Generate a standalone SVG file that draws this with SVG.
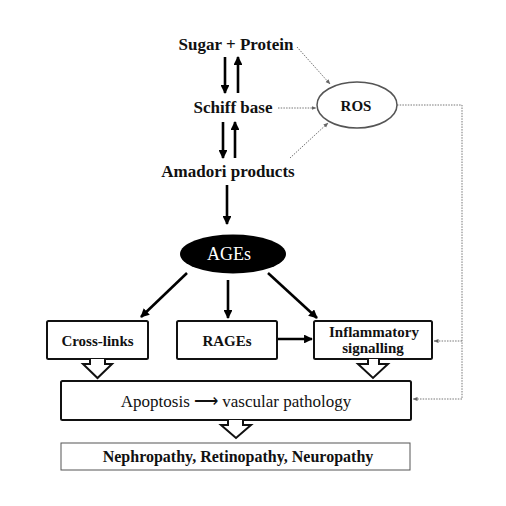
<svg xmlns="http://www.w3.org/2000/svg" width="506" height="506" viewBox="0 0 506 506">
<defs>
<marker id="ah" viewBox="0 0 10 10" refX="9" refY="5" markerWidth="3.4" markerHeight="3.4" orient="auto" markerUnits="strokeWidth"><path d="M0,0 L10,5 L0,10 z" fill="#000"/></marker>
<marker id="dh" viewBox="0 0 10 10" refX="9" refY="5" markerWidth="5" markerHeight="5" orient="auto" markerUnits="strokeWidth"><path d="M0,1 L10,5 L0,9 z" fill="#666"/></marker>
</defs>
<style>
.t{font-family:"Liberation Serif","Times New Roman",serif;font-size:15px;font-weight:bold;fill:#111;text-anchor:middle}
.big{font-size:17px}
.n{font-weight:normal;font-size:17px}
.box{fill:#fff;stroke:#111;stroke-width:2}
.thin{fill:#fff;stroke:#555;stroke-width:1}
.s{stroke:#000;stroke-width:2.6;fill:none;marker-end:url(#ah)}
.d{stroke:#777;stroke-width:1;stroke-dasharray:1.5 1.2;fill:none}
.da{marker-end:url(#dh)}
.ha{fill:#fff;stroke:#111;stroke-width:2;stroke-linejoin:miter}
</style>
<rect width="506" height="506" fill="#fff"/>
<g id="connectors">
<line class="s" x1="225" y1="57" x2="225" y2="93"/>
<line class="s" x1="238" y1="93" x2="238" y2="57"/>
<line class="s" x1="223" y1="122" x2="223" y2="158"/>
<line class="s" x1="235" y1="158" x2="235" y2="122"/>
<line class="s" x1="227" y1="185" x2="227" y2="224"/>
<line class="s" x1="187" y1="273" x2="141" y2="317"/>
<line class="s" x1="228" y1="280" x2="228" y2="318"/>
<line class="s" x1="268" y1="273" x2="317" y2="318"/>
<line class="s" x1="278" y1="339" x2="312" y2="339"/>
<line class="d da" x1="297" y1="47" x2="330" y2="84"/>
<line class="d da" x1="278" y1="108" x2="316" y2="108"/>
<line class="d da" x1="290" y1="158" x2="328" y2="123"/>
<polyline class="d" points="397,105 462,105 462,399"/>
<line class="d da" x1="462" y1="341" x2="434" y2="341"/>
<line class="d da" x1="462" y1="399" x2="413" y2="399"/>
</g>
<g id="sugar"><text class="t big" x="236" y="50">Sugar + Protein</text></g>
<g id="schiff"><text class="t big" x="233" y="113">Schiff base</text></g>
<g id="amadori"><text class="t big" x="228" y="177">Amadori products</text></g>
<g id="ros"><ellipse cx="357" cy="105" rx="40" ry="23" fill="#fff" stroke="#555" stroke-width="1.5"/><text class="t" x="356" y="110.5">ROS</text></g>
<g id="ages"><ellipse cx="233" cy="254" rx="53" ry="19.5" fill="#000"/><text class="t" x="229" y="260" style="fill:#fff;font-weight:normal;font-size:18px">AGEs</text></g>
<g id="crosslinks"><rect class="box" x="47" y="321" width="101" height="38" rx="1.5"/><text class="t" x="97.5" y="346">Cross-links</text></g>
<g id="rages"><rect class="box" x="177" y="321" width="100" height="38" rx="1.5"/><text class="t" x="227" y="346">RAGEs</text></g>
<g id="inflammatory"><rect class="box" x="314" y="321" width="118" height="38" rx="1.5"/><text class="t" x="374" y="337">Inflammatory</text><text class="t" x="373" y="353">signalling</text></g>
<g id="apoptosis"><rect class="box" x="61" y="381" width="350" height="39" rx="1.5"/><text class="t n" x="236" y="407">Apoptosis ⟶ vascular pathology</text></g>
<g id="nephro"><rect class="thin" x="61" y="443" width="349" height="27"/><text class="t" x="238" y="462" style="font-size:16px">Nephropathy, Retinopathy, Neuropathy</text></g>
<g id="hollow-arrows">
<polyline class="ha" points="90,359 90,364 83,364 97.5,378 112,364 105,364 105,359"/>
<polyline class="ha" points="368,359 368,364 358,364 373,378 388,364 379,364 379,359"/>
<polyline class="ha" points="228,420 228,425 221,425 236,438 251,425 243,425 243,420"/>
</g>
</svg>
